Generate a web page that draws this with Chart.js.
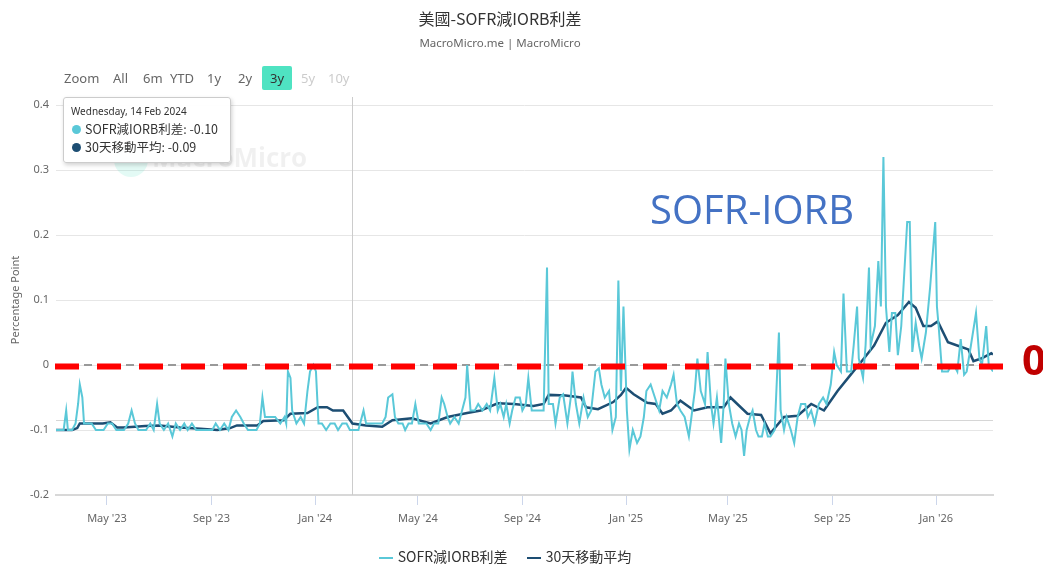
<!DOCTYPE html>
<html>
<head>
<meta charset="utf-8">
<script src="https://cdn.jsdelivr.net/npm/chart.js@4.4.0/dist/chart.umd.min.js"></script>
<style>
  body { margin: 0; background: #fff; font-family: "Noto Sans", "Noto Sans CJK TC", sans-serif; }
  #wrap { position: relative; width: 1043px; height: 566px; overflow: hidden; }
  #chart { position: absolute; left: 0; top: 0; }
  #title { position: absolute; top: 6px; left: 0; width: 1000px; text-align: center; font-size: 16px; color: #333; font-family: "Noto Sans CJK TC", sans-serif; }
  #subtitle { position: absolute; top: 35px; left: 0; width: 1000px; text-align: center; font-size: 11.5px; color: #666; }
  #range { position: absolute; top: 66px; left: 64px; font-size: 13px; color: #666; }
  #range span { position: absolute; top: 0; line-height: 24px; white-space: nowrap; }
  #range .on { background: #4fe3c2; color: #333; padding: 0 8px; border-radius: 2px; }
  #range .off { color: #ccc; }
  #tip { position: absolute; left: 63px; top: 97px; width: 166px; height: 64px; background: rgba(255,255,255,0.96);
         border: 1px solid #ccc; border-radius: 3px; box-shadow: 1px 2px 4px rgba(0,0,0,0.18); font-size: 12.5px; color: #333; }
  #tip .d { position: absolute; left: 7px; top: 6px; font-size: 10px; }
  #tip .r { position: absolute; left: 8px; white-space: nowrap; font-family: "Noto Sans CJK TC", sans-serif; }
  #tip i { display: inline-block; width: 9px; height: 9px; border-radius: 50%; margin-right: 4px; vertical-align: 0; }
  #legend { position: absolute; top: 546px; left: 0; width: 1010px; text-align: center; font-size: 14px; color: #333; font-family: "Noto Sans CJK TC", sans-serif; }
  #legend b { display: inline-block; width: 14px; height: 2px; vertical-align: middle; margin: 0 5px 0 0; }
  #legend span { margin: 0 8px; }
</style>
</head>
<body>
<div id="wrap">
  <canvas id="chart" width="1043" height="566"></canvas>
  <div id="title">美國-SOFR減IORB利差</div>
  <div id="subtitle">MacroMicro.me | MacroMicro</div>
  <div id="range">
    <span style="left:0">Zoom</span>
    <span style="left:49px">All</span>
    <span style="left:79px">6m</span>
    <span style="left:106px">YTD</span>
    <span style="left:143px">1y</span>
    <span style="left:174px">2y</span>
    <span class="on" style="left:198px">3y</span>
    <span class="off" style="left:237px">5y</span>
    <span class="off" style="left:264px">10y</span>
  </div>
  <div id="tip">
    <div class="d">Wednesday, 14 Feb 2024</div>
    <div class="r" style="top:21px"><i style="background:#5ac8d8"></i>SOFR減IORB利差: -0.10</div>
    <div class="r" style="top:39px"><i style="background:#1d4e73"></i>30天移動平均: -0.09</div>
  </div>
  <div id="legend">
    <span><b style="background:#5ac8d8"></b>SOFR減IORB利差</span>
    <span><b style="background:#1d4e73"></b>30天移動平均</span>
  </div>
</div>
<script>
const sofrDates = [
  "2023-03-02","2023-03-07","2023-03-11","2023-03-14","2023-03-16","2023-03-21","2023-03-25","2023-03-28","2023-03-30","2023-04-02",
  "2023-04-04","2023-04-09","2023-04-13","2023-04-18","2023-04-23","2023-04-27","2023-05-02","2023-05-07","2023-05-12","2023-05-16",
  "2023-05-21","2023-05-26","2023-05-30","2023-06-03","2023-06-07","2023-06-11","2023-06-16","2023-06-21","2023-06-25","2023-06-29",
  "2023-07-02","2023-07-07","2023-07-12","2023-07-17","2023-07-21","2023-07-26","2023-07-31","2023-08-04","2023-08-09","2023-08-14",
  "2023-08-19","2023-08-23","2023-08-28","2023-09-02","2023-09-06","2023-09-11","2023-09-16","2023-09-21","2023-09-25","2023-09-30",
  "2023-10-05","2023-10-09","2023-10-14","2023-10-19","2023-10-24","2023-10-28","2023-10-31","2023-11-03","2023-11-09","2023-11-15",
  "2023-11-21","2023-11-26","2023-11-28","2023-11-30","2023-12-03","2023-12-05","2023-12-10","2023-12-15","2023-12-19","2023-12-23",
  "2023-12-26","2023-12-30","2024-01-02","2024-01-05","2024-01-09","2024-01-14","2024-01-19","2024-01-24","2024-01-28","2024-02-02",
  "2024-02-07","2024-02-11","2024-02-14","2024-02-21","2024-02-27","2024-03-01","2024-03-06","2024-03-11","2024-03-15","2024-03-20",
  "2024-03-24","2024-03-27","2024-04-01","2024-04-04","2024-04-08","2024-04-13","2024-04-16","2024-04-20","2024-04-24","2024-04-28",
  "2024-05-02","2024-05-06","2024-05-11","2024-05-16","2024-05-20","2024-05-25","2024-05-29","2024-06-01","2024-06-05","2024-06-08",
  "2024-06-13","2024-06-18","2024-06-22","2024-06-26","2024-06-28","2024-07-02","2024-07-07","2024-07-11","2024-07-16","2024-07-21",
  "2024-07-25","2024-07-30","2024-08-03","2024-08-06","2024-08-10","2024-08-13","2024-08-17","2024-08-20","2024-08-24","2024-08-29",
  "2024-09-01","2024-09-05","2024-09-08","2024-09-12","2024-09-16","2024-09-21","2024-09-26","2024-09-30","2024-10-02","2024-10-07",
  "2024-10-10","2024-10-15","2024-10-19","2024-10-24","2024-10-28","2024-10-30","2024-11-03","2024-11-07","2024-11-12","2024-11-17",
  "2024-11-21","2024-11-26","2024-11-30","2024-12-03","2024-12-07","2024-12-12","2024-12-16","2024-12-20","2024-12-23","2024-12-26",
  "2024-12-29","2025-01-02","2025-01-05","2025-01-09","2025-01-14","2025-01-18","2025-01-22","2025-01-25","2025-01-30","2025-02-04",
  "2025-02-09","2025-02-13","2025-02-18","2025-02-23","2025-02-26","2025-03-02","2025-03-06","2025-03-11","2025-03-16","2025-03-19",
  "2025-03-23","2025-03-26","2025-03-30","2025-04-04","2025-04-07","2025-04-11","2025-04-14","2025-04-18","2025-04-23","2025-04-26",
  "2025-04-28","2025-05-02","2025-05-06","2025-05-10","2025-05-14","2025-05-17","2025-05-20","2025-05-23","2025-05-27","2025-05-30",
  "2025-06-03","2025-06-06","2025-06-10","2025-06-13","2025-06-17","2025-06-20","2025-06-25","2025-06-30","2025-07-02","2025-07-06",
  "2025-07-09","2025-07-14","2025-07-18","2025-07-22","2025-07-26","2025-07-31","2025-08-03","2025-08-07","2025-08-11","2025-08-16",
  "2025-08-21","2025-08-25","2025-08-30","2025-09-03","2025-09-06","2025-09-11","2025-09-14","2025-09-18","2025-09-23","2025-09-26",
  "2025-09-30","2025-10-02","2025-10-07","2025-10-10","2025-10-14","2025-10-16","2025-10-21","2025-10-25","2025-10-28","2025-10-31",
  "2025-11-03","2025-11-07","2025-11-10","2025-11-14","2025-11-17","2025-11-21","2025-11-28","2025-12-01","2025-12-04","2025-12-08",
  "2025-12-12","2025-12-15","2025-12-20","2025-12-25","2025-12-31","2026-01-02","2026-01-04","2026-01-08","2026-01-12","2026-01-15",
  "2026-01-19","2026-01-22","2026-01-26","2026-01-30","2026-02-03","2026-02-06","2026-02-11","2026-02-17","2026-02-21","2026-02-24",
  "2026-03-01","2026-03-04","2026-03-09"
];
const sofrValues = [
  -0.10,-0.10,-0.10,-0.07,-0.10,-0.10,-0.09,-0.06,-0.03,-0.05,
  -0.09,-0.09,-0.09,-0.10,-0.10,-0.10,-0.09,-0.09,-0.10,-0.10,
  -0.10,-0.09,-0.07,-0.09,-0.10,-0.10,-0.10,-0.09,-0.10,-0.06,
  -0.09,-0.10,-0.09,-0.11,-0.09,-0.10,-0.09,-0.10,-0.09,-0.10,
  -0.10,-0.10,-0.10,-0.10,-0.09,-0.10,-0.09,-0.10,-0.08,-0.07,
  -0.08,-0.09,-0.10,-0.10,-0.10,-0.09,-0.05,-0.08,-0.08,-0.08,
  -0.09,-0.08,-0.09,-0.01,-0.02,-0.07,-0.09,-0.08,-0.09,-0.04,
  -0.01,0.00,-0.01,-0.09,-0.09,-0.10,-0.09,-0.09,-0.10,-0.09,
  -0.09,-0.10,-0.10,-0.10,-0.07,-0.09,-0.09,-0.09,-0.09,-0.09,
  -0.08,-0.05,-0.045,-0.08,-0.09,-0.09,-0.10,-0.09,-0.09,-0.06,
  -0.09,-0.09,-0.09,-0.10,-0.09,-0.09,-0.05,-0.06,-0.08,-0.09,
  -0.08,-0.09,-0.07,-0.05,0.00,-0.07,-0.07,-0.06,-0.07,-0.06,
  -0.07,-0.02,-0.07,-0.06,-0.08,-0.06,-0.09,-0.07,-0.05,-0.05,
  -0.07,-0.06,-0.02,-0.07,-0.07,-0.07,-0.07,0.15,-0.06,-0.06,
  -0.09,-0.05,-0.045,-0.09,-0.05,-0.01,-0.06,-0.09,-0.05,-0.08,
  -0.07,-0.01,-0.005,-0.03,-0.05,-0.04,-0.10,-0.08,0.13,-0.04,
  0.09,-0.07,-0.13,-0.10,-0.12,-0.11,-0.08,-0.04,-0.03,-0.05,
  -0.07,-0.04,-0.05,-0.03,-0.015,-0.06,-0.07,-0.08,-0.11,-0.08,
  -0.04,0.01,-0.04,-0.06,0.02,-0.06,-0.09,-0.05,-0.12,-0.06,
  0.01,-0.06,-0.09,-0.11,-0.09,-0.10,-0.14,-0.10,-0.08,-0.07,
  -0.10,-0.11,-0.11,-0.09,-0.11,-0.11,-0.10,0.05,-0.07,-0.10,
  -0.08,-0.10,-0.12,-0.08,-0.06,-0.06,-0.08,-0.07,-0.09,-0.06,
  -0.05,-0.06,-0.03,0.02,0.00,-0.01,0.11,-0.01,-0.01,0.03,
  0.09,0.01,-0.02,0.03,0.15,0.03,0.06,0.16,0.09,0.32,
  0.09,0.02,0.08,0.08,0.015,0.06,0.22,0.22,0.02,0.065,
  0.03,0.01,0.05,0.12,0.22,0.09,0.06,-0.01,-0.01,-0.01,
  0.00,0.00,-0.01,0.04,-0.015,-0.01,0.03,0.08,0.01,0.00,
  0.06,0.00,-0.01
];
const maDates = [
  "2023-03-02","2023-03-12","2023-03-21","2023-03-27","2023-03-30","2023-04-11","2023-04-26","2023-05-05","2023-05-13","2023-05-20",
  "2023-06-03","2023-06-15","2023-07-02","2023-07-26","2023-08-19","2023-09-08","2023-09-23","2023-10-01","2023-10-25","2023-11-01",
  "2023-11-25","2023-12-03","2023-12-23","2024-01-04","2024-01-15","2024-01-22","2024-02-03","2024-02-14","2024-03-01","2024-03-20",
  "2024-04-01","2024-04-24","2024-05-16","2024-06-05","2024-06-28","2024-07-14","2024-08-03","2024-08-22","2024-09-14","2024-09-26",
  "2024-10-02","2024-10-22","2024-11-09","2024-11-15","2024-11-29","2024-12-17","2024-12-26","2025-01-01","2025-01-10","2025-01-26",
  "2025-02-05","2025-02-13","2025-02-23","2025-03-06","2025-03-22","2025-04-07","2025-04-26","2025-05-04","2025-05-24","2025-06-09",
  "2025-06-20","2025-07-06","2025-07-22","2025-08-07","2025-08-22","2025-09-07","2025-09-23","2025-10-08","2025-10-20","2025-11-03",
  "2025-11-17","2025-11-30","2025-12-08","2025-12-17","2025-12-26","2026-01-03","2026-01-15","2026-01-30","2026-02-08","2026-02-14",
  "2026-02-23","2026-03-07","2026-03-09"
];
const maValues = [
  -0.100,-0.100,-0.100,-0.097,-0.090,-0.090,-0.090,-0.088,-0.096,-0.096,
  -0.095,-0.094,-0.093,-0.096,-0.098,-0.100,-0.097,-0.093,-0.093,-0.086,
  -0.085,-0.075,-0.074,-0.065,-0.065,-0.070,-0.070,-0.090,-0.093,-0.095,
  -0.085,-0.082,-0.090,-0.080,-0.074,-0.070,-0.059,-0.060,-0.063,-0.060,
  -0.046,-0.047,-0.050,-0.065,-0.068,-0.057,-0.046,-0.035,-0.045,-0.058,
  -0.060,-0.075,-0.070,-0.055,-0.070,-0.065,-0.065,-0.050,-0.075,-0.077,
  -0.105,-0.080,-0.078,-0.060,-0.070,-0.040,-0.014,0.010,0.030,0.065,
  0.077,0.097,0.088,0.060,0.060,0.067,0.035,0.028,0.024,0.006,
  0.010,0.018,0.016
];
const tickDates = ["2023-05-01","2023-09-01","2024-01-01","2024-05-01","2024-09-01","2025-01-01","2025-05-01","2025-09-01","2026-01-01"];
const tickLabels = ["May '23","Sep '23","Jan '24","May '24","Sep '24","Jan '25","May '25","Sep '25","Jan '26"];
const yTicks = [-0.2, -0.1, 0, 0.1, 0.2, 0.3, 0.4];
const hoverDate = "2024-02-14";

const toDay = (s) => {
  const [y, m, d] = s.split("-").map(Number);
  return Date.UTC(y, m - 1, d) / 864e5;
};

const sofrPoints = sofrDates.map((d, i) => ({ x: toDay(d), y: sofrValues[i] }));
const maPoints = maDates.map((d, i) => ({ x: toDay(d), y: maValues[i] }));

// plot lines, watermark and the pasted-on annotation
const extras = {
  id: "extras",
  beforeDatasetsDraw(chart) {
    const { ctx, chartArea: a, scales: { x, y } } = chart;
    ctx.save();
    // watermark
    ctx.fillStyle = "rgba(79,227,194,0.16)";
    ctx.beginPath();
    ctx.arc(131, 160, 17, 0, Math.PI * 2);
    ctx.fill();
    ctx.fillStyle = "rgba(0,0,0,0.06)";
    ctx.font = "bold 26px 'Open Sans'";
    ctx.textBaseline = "middle";
    ctx.fillText("MacroMicro", 152, 160);
    // grey line near -0.085
    ctx.strokeStyle = "#d6d6d6";
    ctx.lineWidth = 1;
    const yl = Math.round(y.getPixelForValue(-0.085)) + 0.5;
    ctx.beginPath(); ctx.moveTo(a.left, yl); ctx.lineTo(a.right, yl); ctx.stroke();
    // crosshair
    const xh = Math.round(x.getPixelForValue(toDay(hoverDate))) + 0.5;
    ctx.strokeStyle = "#cccccc";
    ctx.beginPath(); ctx.moveTo(xh, a.top - 8); ctx.lineTo(xh, a.bottom); ctx.stroke();
    // zero dashed line
    const y0 = y.getPixelForValue(0);
    ctx.strokeStyle = "#999";
    ctx.lineWidth = 2;
    ctx.setLineDash([8, 6]);
    ctx.beginPath(); ctx.moveTo(a.left, y0); ctx.lineTo(a.right, y0); ctx.stroke();
    ctx.restore();
  },
  afterDatasetsDraw(chart) {
    const { ctx, chartArea: a, scales: { y } } = chart;
    const y0 = y.getPixelForValue(0) + 1.5;
    ctx.save();
    ctx.strokeStyle = "#ff0000";
    ctx.lineWidth = 6;
    ctx.setLineDash([24, 18]);
    ctx.beginPath(); ctx.moveTo(a.left - 1, y0); ctx.lineTo(a.right + 10, y0); ctx.stroke();
    ctx.setLineDash([]);
    ctx.fillStyle = "#c00000";
    ctx.font = "bold 42px 'Open Sans'";
    ctx.textBaseline = "alphabetic";
    ctx.textAlign = "center";
    ctx.fillText("0", a.right + 41, y0 + 8);
    ctx.fillStyle = "#4472c4";
    ctx.font = "40px 'Open Sans'";
    ctx.textAlign = "left";
    ctx.fillText("SOFR-IORB", 650, 224);
    ctx.restore();
  }
};

new Chart(document.getElementById("chart"), {
  type: "line",
  data: {
    datasets: [
      { label: "SOFR減IORB利差", data: sofrPoints, borderColor: "#5ac8d8", borderWidth: 2, pointRadius: 0, tension: 0 },
      { label: "30天移動平均", data: maPoints, borderColor: "#1d4e73", borderWidth: 2.5, pointRadius: 0, tension: 0 }
    ]
  },
  options: {
    responsive: false,
    animation: false,
    events: [],
    layout: { padding: { top: 105, right: 50, bottom: 31, left: 0 } },
    plugins: { legend: { display: false }, tooltip: { enabled: false } },
    scales: {
      x: {
        type: "linear",
        min: toDay(sofrDates[0]),
        max: toDay(sofrDates[sofrDates.length - 1]),
        afterBuildTicks: (s) => { s.ticks = tickDates.map((d) => ({ value: toDay(d) })); },
        afterFit: (s) => { s.height = 40; },
        ticks: {
          autoSkip: false, maxRotation: 0, color: "#666", padding: 7,
          font: { size: 11, family: "'Noto Sans'" },
          callback: (v, i) => tickLabels[i]
        },
        grid: { drawOnChartArea: false, drawTicks: true, tickLength: 10, color: "#ccd6eb" },
        border: { display: true, color: "#d8d8d8", width: 2 }
      },
      y: {
        min: -0.2,
        max: 0.4,
        afterBuildTicks: (s) => { s.ticks = yTicks.map((v) => ({ value: v })); },
        afterFit: (s) => { s.width = 56; },
        ticks: {
          color: "#666", padding: 7,
          font: { size: 11, family: "'Noto Sans'" },
          callback: (v) => (v === 0 ? "0" : v.toFixed(1))
        },
        grid: { color: "#e6e6e6", drawTicks: false },
        border: { display: false },
        title: { display: true, text: "Percentage Point", color: "#666", font: { size: 11, family: "'Noto Sans'" }, padding: { top: 9, bottom: 0 } }
      }
    }
  },
  plugins: [extras]
});
</script>
</body>
</html>
